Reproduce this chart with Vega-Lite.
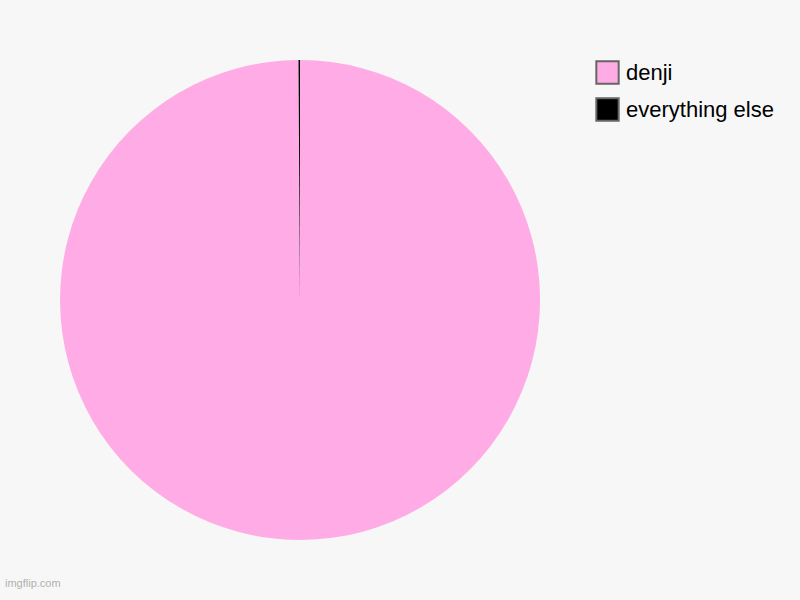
{
  "$schema": "https://vega.github.io/schema/vega-lite/v6.json",
  "width": 600,
  "height": 600,
  "autosize": {"type": "none"},
  "padding": {"left": 0, "top": 0, "right": 200, "bottom": 0},
  "background": "#f7f7f7",
  "title": {
    "text": "imgflip.com",
    "orient": "bottom",
    "anchor": "start",
    "frame": "group",
    "offset": -22,
    "dx": 5,
    "fontSize": 11,
    "fontWeight": "normal",
    "font": "Liberation Sans",
    "color": "#b0b0b0"
  },
  "data": {
    "values": [
      {"label": "denji", "value": 999, "rank": 1},
      {"label": "everything else", "value": 1, "rank": 2}
    ]
  },
  "mark": {"type": "arc", "outerRadius": 240},
  "encoding": {
    "theta": {"field": "value", "type": "quantitative", "stack": true},
    "order": {"field": "rank", "type": "quantitative"},
    "color": {
      "field": "label",
      "type": "nominal",
      "scale": {"domain": ["denji", "everything else"], "range": ["#ffabe6", "#000000"]},
      "legend": {
        "title": null,
        "orient": "none",
        "legendX": 595,
        "legendY": 60,
        "symbolType": "square",
        "symbolSize": 500,
        "symbolStrokeColor": "#666666",
        "symbolStrokeWidth": 2,
        "symbolOpacity": 1,
        "labelFontSize": 22,
        "labelFont": "Liberation Sans",
        "labelColor": "#000000",
        "labelOffset": 6,
        "rowPadding": 6
      }
    }
  },
  "config": {"view": {"stroke": null}}
}
